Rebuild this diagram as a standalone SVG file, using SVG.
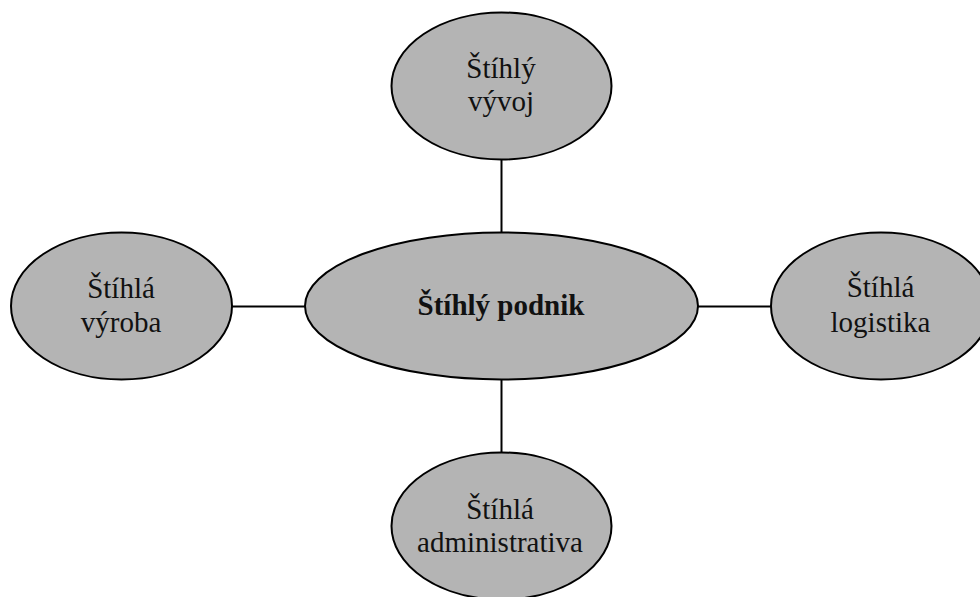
<svg xmlns="http://www.w3.org/2000/svg" width="980" height="597" viewBox="0 0 980 597">
<style>
.node{fill:#b4b4b4;stroke:#000;stroke-width:2}
.lbl{font-family:"Liberation Serif","Times New Roman",serif;font-size:29px;fill:#111;text-anchor:middle}
.bold{font-weight:bold}
.conn{stroke:#000;stroke-width:2;fill:none}
</style>
<rect width="980" height="597" fill="#fff"/>
<g id="connectors">
<line class="conn" x1="501.5" y1="159" x2="501.5" y2="233"/>
<line class="conn" x1="501.5" y1="379" x2="501.5" y2="453"/>
<line class="conn" x1="232" y1="306.5" x2="306" y2="306.5"/>
<line class="conn" x1="697" y1="306.5" x2="771" y2="306.5"/>
</g>
<g id="center">
<ellipse class="node" cx="501.5" cy="306" rx="196.5" ry="73.5"/>
<text class="lbl bold" x="501" y="315">Štíhlý podnik</text>
</g>
<g id="top">
<ellipse class="node" cx="501.5" cy="86" rx="110" ry="73.5"/>
<text class="lbl" x="501" y="78">Štíhlý</text>
<text class="lbl" x="501" y="111">vývoj</text>
</g>
<g id="left">
<ellipse class="node" cx="121.5" cy="306" rx="110.5" ry="73.5"/>
<text class="lbl" x="121" y="298">Štíhlá</text>
<text class="lbl" x="121" y="332">výroba</text>
</g>
<g id="right">
<ellipse class="node" cx="881" cy="306" rx="110" ry="73.5"/>
<text class="lbl" x="880.5" y="297">Štíhlá</text>
<text class="lbl" x="880.5" y="332">logistika</text>
</g>
<g id="bottom">
<ellipse class="node" cx="501.5" cy="526" rx="110" ry="73.5"/>
<text class="lbl" x="500" y="519">Štíhlá</text>
<text class="lbl" x="500" y="552">administrativa</text>
</g>
</svg>
